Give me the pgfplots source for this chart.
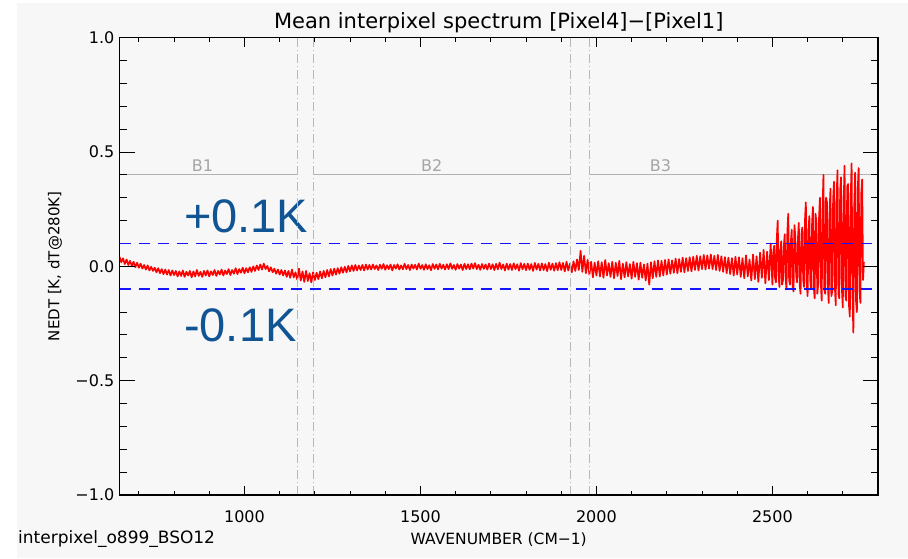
\documentclass[border=0pt]{standalone}
\usepackage{pgfplots}
\pgfplotsset{compat=1.18}
\usepackage{pgfplotstable}
\usepackage{fontspec}
\setmainfont{DejaVu Sans}
\newfontfamily\arialfont{Liberation Sans}

\definecolor{bgpanel}{RGB}{247,247,247}
\definecolor{bandgray}{RGB}{178,178,178}
\definecolor{labelgray}{RGB}{165,165,165}
\definecolor{limitgray}{RGB}{185,185,185}
\definecolor{annotblue}{RGB}{16,84,148}
\definecolor{reqblue}{RGB}{20,20,255}
\definecolor{specred}{RGB}{255,0,0}

% Mean interpixel difference spectrum, Pixel4 - Pixel1 (K, dT@280K)
\pgfplotstableread{
x y
645 0.042
650 0.018
655 0.035
660 0.010
665 0.030
670 0.006
675 0.024
680 0.002
685 0.020
690 -0.004
695 0.016
700 -0.006
705 0.012
710 -0.010
715 0.006
720 -0.014
725 0.004
730 -0.018
735 -0.002
740 -0.020
745 -0.006
750 -0.026
755 -0.008
760 -0.030
765 -0.012
770 -0.034
775 -0.014
780 -0.036
785 -0.016
790 -0.040
795 -0.018
800 -0.038
805 -0.020
810 -0.044
815 -0.022
820 -0.042
825 -0.018
830 -0.046
835 -0.024
840 -0.040
845 -0.020
850 -0.048
855 -0.022
860 -0.044
865 -0.016
870 -0.042
875 -0.024
880 -0.046
885 -0.020
890 -0.040
895 -0.018
900 -0.044
905 -0.022
910 -0.038
915 -0.016
920 -0.042
925 -0.020
930 -0.036
935 -0.014
940 -0.040
945 -0.018
950 -0.034
955 -0.012
960 -0.038
965 -0.016
970 -0.032
975 -0.008
980 -0.034
985 -0.012
990 -0.028
995 -0.006
1000 -0.030
1005 -0.008
1010 -0.026
1015 -0.004
1020 -0.024
1025 0.000
1030 -0.020
1035 0.004
1040 -0.016
1045 0.008
1050 -0.014
1055 0.012
1060 -0.012
1065 0.002
1070 -0.022
1075 -0.004
1080 -0.026
1085 -0.010
1090 -0.032
1095 -0.014
1100 -0.036
1105 -0.016
1110 -0.040
1115 -0.018
1120 -0.046
1125 -0.020
1130 -0.050
1135 -0.014
1140 -0.048
1145 -0.026
1150 -0.058
1155 -0.010
1160 -0.062
1165 -0.022
1170 -0.068
1175 -0.020
1180 -0.064
1185 -0.030
1190 -0.070
1195 -0.026
1200 -0.060
1205 -0.028
1210 -0.056
1215 -0.022
1220 -0.052
1225 -0.020
1230 -0.048
1235 -0.016
1240 -0.044
1245 -0.012
1250 -0.040
1255 -0.010
1260 -0.036
1265 -0.008
1270 -0.032
1275 -0.004
1280 -0.028
1285 -0.002
1290 -0.026
1295 0.002
1300 -0.022
1305 0.004
1310 -0.020
1315 0.006
1320 -0.018
1325 0.004
1330 -0.016
1335 0.006
1340 -0.018
1345 0.008
1350 -0.014
1355 0.006
1360 -0.014
1365 0.008
1370 -0.012
1375 0.004
1380 -0.016
1385 0.007
1390 -0.011
1395 0.010
1400 -0.015
1405 0.005
1410 -0.012
1415 0.008
1420 -0.018
1425 0.006
1430 -0.010
1435 0.009
1440 -0.014
1445 0.004
1450 -0.013
1455 0.011
1460 -0.012
1465 0.006
1470 -0.016
1475 0.008
1480 -0.010
1485 0.007
1490 -0.014
1495 0.012
1500 -0.011
1505 0.006
1510 -0.015
1515 0.009
1520 -0.012
1525 0.005
1530 -0.017
1535 0.010
1540 -0.011
1545 0.008
1550 -0.013
1555 0.011
1560 -0.010
1565 0.007
1570 -0.014
1575 0.009
1580 -0.012
1585 0.013
1590 -0.011
1595 0.006
1600 -0.015
1605 0.010
1610 -0.010
1615 0.008
1620 -0.016
1625 0.011
1630 -0.012
1635 0.009
1640 -0.013
1645 0.012
1650 -0.010
1655 0.014
1660 -0.012
1665 0.007
1670 -0.015
1675 0.010
1680 -0.011
1685 0.008
1690 -0.014
1695 0.012
1700 -0.012
1705 0.009
1710 -0.016
1715 0.011
1720 -0.013
1725 0.016
1730 -0.012
1735 0.008
1740 -0.018
1745 0.012
1750 -0.014
1755 0.010
1760 -0.016
1765 0.013
1770 -0.012
1775 0.009
1780 -0.019
1785 0.014
1790 -0.013
1795 0.011
1800 -0.017
1805 0.012
1810 -0.015
1815 0.010
1820 -0.020
1825 0.015
1830 -0.014
1835 0.011
1840 -0.018
1845 0.013
1850 -0.016
1855 0.010
1860 -0.021
1865 0.016
1870 -0.015
1875 0.012
1880 -0.019
1885 0.014
1890 -0.017
1895 0.018
1900 -0.016
1905 0.015
1910 -0.022
1915 0.020
1920 -0.018
1925 0.012
1930 -0.026
1935 0.022
1940 -0.020
1945 0.030
1950 -0.016
1955 0.068
1960 -0.024
1965 0.046
1970 -0.030
1975 0.028
1980 -0.036
1985 0.020
1990 -0.048
1995 0.016
2000 -0.040
2005 0.022
2010 -0.044
2015 0.018
2020 -0.050
2025 0.028
2030 -0.040
2035 0.014
2040 -0.046
2045 0.020
2050 -0.052
2055 0.016
2060 -0.042
2065 0.024
2070 -0.056
2075 0.012
2080 -0.048
2085 0.018
2090 -0.044
2095 0.010
2100 -0.054
2105 0.020
2110 -0.046
2115 0.014
2120 -0.058
2125 0.016
2130 -0.050
2135 0.008
2140 -0.062
2145 0.012
2150 -0.080
2155 0.018
2160 -0.052
2165 0.022
2170 -0.046
2175 0.026
2180 -0.044
2185 0.024
2190 -0.040
2195 0.028
2200 -0.036
2205 0.030
2210 -0.032
2215 0.026
2220 -0.028
2225 0.034
2230 -0.030
2235 0.032
2240 -0.024
2245 0.038
2250 -0.026
2255 0.036
2260 -0.020
2265 0.040
2270 -0.022
2275 0.042
2280 -0.016
2285 0.046
2290 -0.018
2295 0.044
2300 -0.012
2305 0.050
2310 -0.014
2315 0.048
2320 -0.010
2325 0.052
2330 -0.012
2335 0.046
2340 -0.016
2345 0.050
2350 -0.020
2355 0.044
2360 -0.024
2365 0.040
2370 -0.030
2375 0.038
2380 -0.034
2385 0.036
2390 -0.040
2395 0.042
2400 -0.036
2405 0.040
2410 -0.046
2415 0.036
2420 -0.052
2425 0.048
2430 -0.044
2435 0.030
2440 -0.062
2445 0.052
2450 -0.056
2455 0.044
2460 -0.068
2465 0.060
2470 -0.050
2475 0.072
2480 -0.074
2485 0.064
2490 -0.060
2495 0.100
2500 -0.080
2502.5 0.060
2505 0.090
2507.5 -0.050
2510 -0.070
2512.5 0.120
2515 0.200
2517.5 -0.040
2520 -0.090
2522.5 0.070
2525 0.110
2527.5 -0.080
2530 -0.060
2532.5 0.090
2535 0.140
2537.5 -0.050
2540 -0.100
2542.5 0.150
2545 0.230
2547.5 -0.060
2550 -0.080
2552.5 0.110
2555 0.160
2557.5 -0.090
2560 -0.110
2562.5 0.180
2565 0.130
2567.5 -0.040
2570 -0.070
2572.5 0.120
2575 0.190
2577.5 -0.080
2580 -0.120
2582.5 0.140
2585 0.170
2587.5 -0.060
2590 -0.090
2592.5 0.200
2595 0.280
2597.5 -0.070
2600 -0.130
2602.5 0.160
2605 0.220
2607.5 -0.060
2610 -0.100
2612.5 0.180
2615 0.260
2617.5 -0.090
2620 -0.140
2622.5 0.230
2625 0.190
2627.5 -0.120
2630 -0.080
2632.5 0.210
2635 0.300
2637.5 -0.070
2640 -0.150
2642.5 0.250
2645 0.400
2647.5 -0.100
2650 -0.120
2652.5 0.300
2655 0.280
2657.5 -0.080
2660 -0.160
2662.5 0.240
2665 0.340
2667.5 -0.130
2670 -0.110
2672.5 0.290
2675 0.370
2677.5 -0.090
2680 -0.170
2682.5 0.310
2685 0.420
2687.5 -0.120
2690 -0.140
2692.5 0.330
2695 0.390
2697.5 -0.100
2700 -0.180
2702.5 0.280
2705 0.440
2707.5 -0.130
2710 -0.150
2712.5 0.350
2715 0.360
2717.5 -0.170
2720 -0.220
2722.5 0.300
2725 0.450
2727.5 -0.120
2730 -0.290
2732.5 0.260
2735 0.410
2737.5 -0.150
2740 -0.200
2742.5 0.340
2745 0.430
2747.5 -0.110
2750 -0.160
2752.5 0.320
2755 0.380
2757.5 -0.060
2760 0.020
}\spectrum

\pgfplotsset{
  nedtframe/.style={
    at={(119.5pt,63pt)}, anchor=south west,
    scale only axis, width=758.5pt, height=457.3pt,
    xmin=645, xmax=2800, ymin=-1, ymax=1,
    axis line style={line width=1.2pt, black},
    tick align=inside,
    every tick/.style={black, line width=1pt},
    /pgf/number format/assume math mode=true,
    unbounded coords=jump,
  },
}

\begin{document}
\begin{tikzpicture}
\useasboundingbox (0,0) rectangle (908pt,558pt);
\fill[bgpanel] (17pt,0pt) rectangle (908pt,555pt);

\node[anchor=base west, inner sep=0pt, font=\fontsize{17}{20}\selectfont] at (18pt,15pt) {interpixel\_o899\_BSO12};
\node[anchor=base west, inner sep=0pt, text=annotblue, font=\arialfont\fontsize{47}{50}\selectfont] at (184pt,325pt) {+0.1K};
\node[anchor=base west, inner sep=0pt, text=annotblue, font=\arialfont\fontsize{47}{50}\selectfont] at (184pt,216.5pt) {-0.1K};

% main axis: data, band limits, x ticks, labels
\begin{axis}[nedtframe,
  xtick={1000,1500,2000,2500},
  xticklabels={1000,1500,2000,2500},
  minor xtick={700,800,900,1100,1200,1300,1400,1600,1700,1800,1900,2100,2200,2300,2400,2600,2700},
  major tick length=9.5pt, minor tick length=4.5pt,
  ytick=\empty,
  xticklabel style={font=\fontsize{16}{18}\selectfont, inner sep=0pt, yshift=-15pt},
  title={Mean interpixel spectrum [Pixel4]−[Pixel1]},
  every axis title/.style={at={(axis description cs:0.5,1.0201)}, anchor=base,
    inner sep=0pt, font=\fontsize{21}{24}\selectfont},
  xlabel={WAVENUMBER (CM−1)},
  every axis x label/.style={at={(axis description cs:0.5,-0.1072)}, anchor=base,
    inner sep=0pt, font=\fontsize{15.5}{18}\selectfont},
  ylabel={NEDT [K, dT@280K]},
  every axis y label/.style={at={(axis description cs:-0.085,0.5)}, anchor=center,
    rotate=90, inner sep=0pt, font=\fontsize{15}{18}\selectfont},
]
  % band extent markers
  \addplot[draw=bandgray, line width=1pt] coordinates
    {(645,0.4) (1150,0.4) (nan,nan) (1195,0.4) (1925,0.4) (nan,nan) (1980,0.4) (2800,0.4)};

  % spectrum
  \addplot[draw=specred, line width=1.7pt, line join=round] table[x=x, y=y] {\spectrum};

  % band overlap limits
  \addplot[draw=limitgray, line width=1pt, dash pattern=on 9pt off 3pt on 1pt off 3pt] coordinates
    {(1150,-1) (1150,1) (nan,nan) (1195,-1) (1195,1) (nan,nan)
     (1925,-1) (1925,1) (nan,nan) (1980,-1) (1980,1)};

  \node[text=labelgray, anchor=base, inner sep=0pt, font=\fontsize{16}{18}\selectfont] at (axis cs:881,0.417) {B1};
  \node[text=labelgray, anchor=base, inner sep=0pt, font=\fontsize{16}{18}\selectfont] at (axis cs:1532,0.417) {B2};
  \node[text=labelgray, anchor=base, inner sep=0pt, font=\fontsize{16}{18}\selectfont] at (axis cs:2182,0.417) {B3};
\end{axis}

% y ticks with their own lengths, and the +/- 0.1 K requirement on top
\begin{axis}[nedtframe,
  xtick=\empty,
  ytick={-1,-0.5,0,0.5,1},
  yticklabels={−1.0,−0.5,0.0,0.5,1.0},
  minor ytick={-0.9,-0.8,-0.7,-0.6,-0.4,-0.3,-0.2,0.2,0.3,0.4,0.6,0.7,0.8,0.9},
  major tick length=15pt, minor tick length=7.5pt,
  yticklabel style={font=\fontsize{16}{18}\selectfont, inner sep=0pt, xshift=-5pt},
]
  \addplot[draw=reqblue, line width=1.9pt, dash pattern=on 11pt off 8pt] coordinates
    {(645,0.1) (2800,0.1)};
  \addplot[draw=reqblue, line width=1.9pt, dash pattern=on 11pt off 8pt] coordinates
    {(645,-0.1) (2800,-0.1)};
\end{axis}
\end{tikzpicture}
\end{document}
